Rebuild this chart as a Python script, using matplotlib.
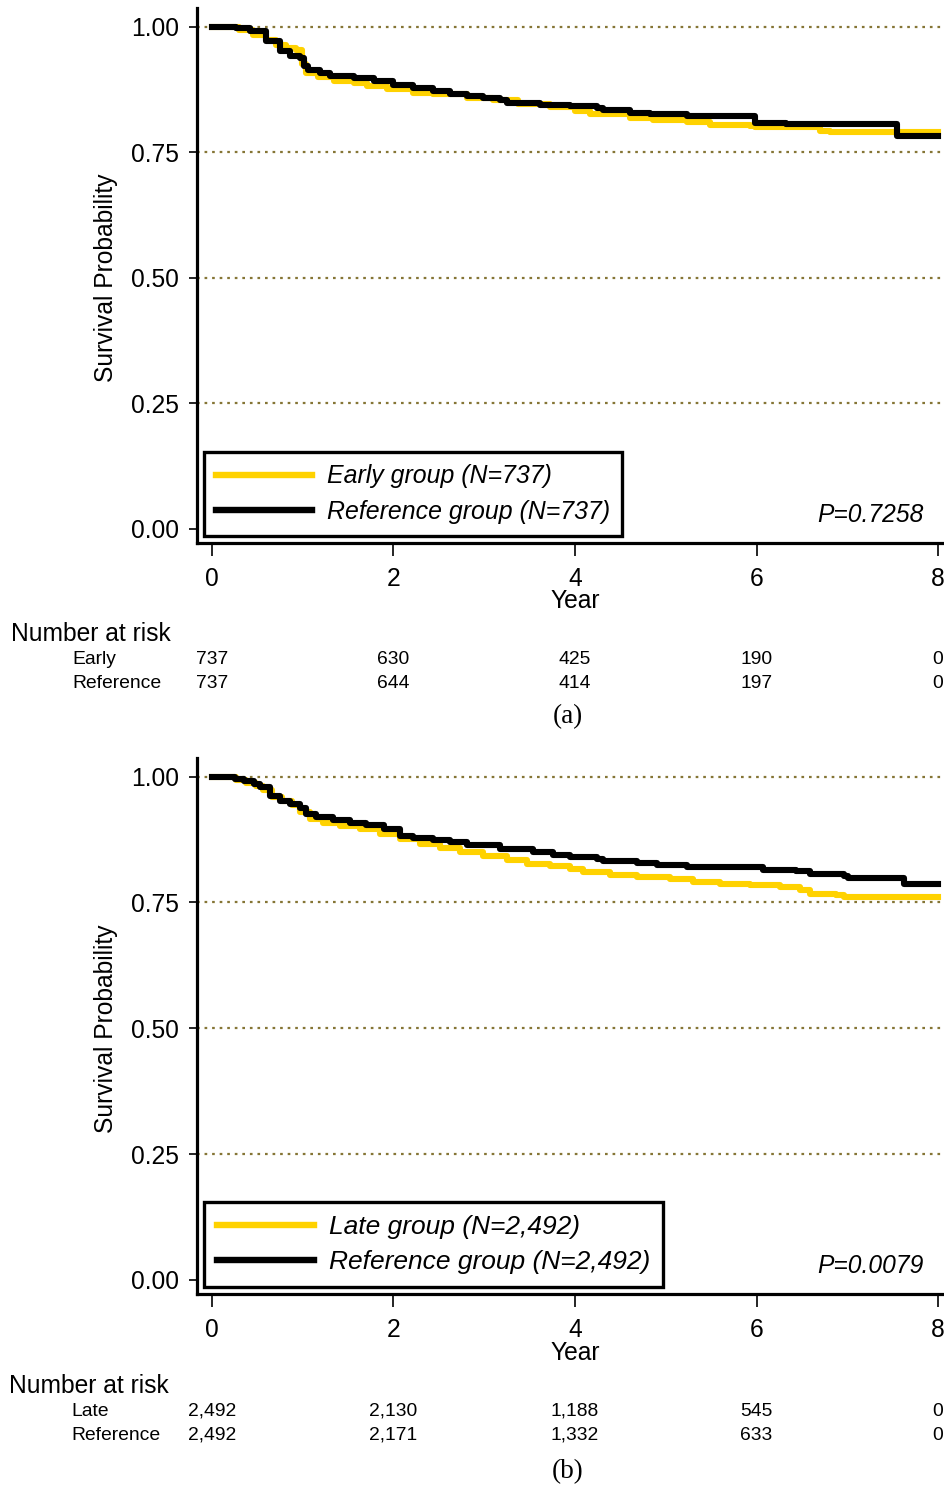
import matplotlib
matplotlib.use("Agg")
import matplotlib.pyplot as plt
import matplotlib.transforms as mtransforms

# Kaplan-Meier survival curves, two panels
plt.rcParams['font.family'] = ['Liberation Sans', 'DejaVu Sans']

# ---- panel (a) : early vs reference ----
a_early_t = [0, 0.30, 0.45, 0.60, 0.71, 0.82, 0.93, 0.99, 1.04, 1.17, 1.35, 1.56, 1.71, 1.93, 2.22, 2.44,
             2.81, 3.10, 3.37, 3.73, 4.00, 4.17, 4.61, 4.86, 5.23, 5.49, 5.93, 5.98, 6.70, 6.81, 8.0]
a_early_s = [1.0, 0.993, 0.984, 0.974, 0.964, 0.958, 0.954, 0.925, 0.908, 0.899, 0.891, 0.888, 0.881, 0.875,
             0.868, 0.865, 0.858, 0.853, 0.846, 0.839, 0.831, 0.825, 0.818, 0.815, 0.811, 0.805, 0.803,
             0.800, 0.793, 0.790, 0.790]
a_ref_t = [0, 0.27, 0.42, 0.60, 0.75, 0.86, 0.97, 1.01, 1.06, 1.19, 1.30, 1.56, 1.78, 2.00, 2.22, 2.44,
           2.62, 2.81, 2.99, 3.17, 3.25, 3.61, 3.94, 4.24, 4.31, 4.61, 4.83, 5.23, 5.98, 6.33, 7.55, 8.0]
a_ref_s = [1.0, 0.997, 0.991, 0.971, 0.951, 0.941, 0.938, 0.921, 0.914, 0.908, 0.901, 0.898, 0.891, 0.884,
           0.878, 0.871, 0.865, 0.861, 0.858, 0.853, 0.848, 0.843, 0.841, 0.838, 0.833, 0.828, 0.825,
           0.823, 0.809, 0.806, 0.783, 0.783]
a_labels = ["Early group (N=737)", "Reference group (N=737)"]
a_pval = "P=0.7258"
a_rows = ["Early", "Reference"]
a_risk_early = ["737", "630", "425", "190", "0"]
a_risk_ref = ["737", "644", "414", "197", "0"]

# ---- panel (b) : late vs reference ----
b_late_t = [0, 0.27, 0.38, 0.48, 0.56, 0.66, 0.77, 0.88, 0.97, 1.08, 1.22, 1.41, 1.63, 1.85, 2.07, 2.29,
            2.51, 2.73, 2.99, 3.25, 3.47, 3.72, 3.94, 4.09, 4.39, 4.68, 5.05, 5.30, 5.60, 5.93, 6.26,
            6.48, 6.59, 6.88, 6.96, 8.0]
b_late_s = [1.0, 0.994, 0.987, 0.981, 0.974, 0.960, 0.951, 0.944, 0.929, 0.916, 0.908, 0.901, 0.895, 0.886,
            0.876, 0.866, 0.858, 0.851, 0.843, 0.835, 0.827, 0.822, 0.816, 0.810, 0.805, 0.800, 0.797,
            0.790, 0.787, 0.784, 0.780, 0.774, 0.767, 0.765, 0.761, 0.761]
b_ref_t = [0, 0.25, 0.35, 0.46, 0.53, 0.64, 0.75, 0.86, 0.97, 1.04, 1.15, 1.33, 1.52, 1.70, 1.89, 2.07,
           2.22, 2.44, 2.62, 2.81, 3.17, 3.54, 3.76, 3.94, 4.24, 4.31, 4.68, 4.90, 5.23, 6.07, 6.44,
           6.59, 6.96, 7.01, 7.62, 8.0]
b_ref_s = [1.0, 0.996, 0.992, 0.985, 0.979, 0.962, 0.952, 0.946, 0.937, 0.926, 0.919, 0.913, 0.908, 0.903,
           0.895, 0.883, 0.878, 0.875, 0.870, 0.864, 0.857, 0.850, 0.845, 0.840, 0.837, 0.833, 0.829,
           0.825, 0.820, 0.815, 0.812, 0.807, 0.802, 0.798, 0.787, 0.787]
b_labels = ["Late group (N=2,492)", "Reference group (N=2,492)"]
b_pval = "P=0.0079"
b_rows = ["Late", "Reference"]
b_risk_late = ["2,492", "2,130", "1,188", "545", "0"]
b_risk_ref = ["2,492", "2,171", "1,332", "633", "0"]

risk_years = [0, 2, 4, 6, 8]
y_ticks = [0, 0.25, 0.5, 0.75, 1.0]
y_ticklabels = ["0.00", "0.25", "0.50", "0.75", "1.00"]

W, H = 945, 1489
yellow = '#FFD200'
grid_col = '#857535'
fs = 17.7   # main text size
fs_tab = 13.9

fig = plt.figure(figsize=(W / 100, H / 100), dpi=100)


def fx(px):
    return px / W


def fy(py):
    return 1 - py / H


def panel(top, bottom, t1, s1, t2, s2, labels, pval, rows, risk1, risk2, tag, tab_y, leg_opts):
    ax = fig.add_axes([fx(197), fy(bottom), 1 - fx(197), (bottom - top) / H])
    # gridlines (dotted, olive) behind the curves
    for g in [0.25, 0.5, 0.75, 1.0]:
        ax.axhline(g, color=grid_col, linestyle=(0, (1.2, 2.2)), linewidth=1.6, zorder=1)
    ax.plot(t1, s1, drawstyle='steps-post', color=yellow, linewidth=4.4, label=labels[0], zorder=3)
    ax.plot(t2, s2, drawstyle='steps-post', color='black', linewidth=4.4, label=labels[1], zorder=4)

    ax.set_xlim(-0.165, 8.077)
    ax.set_ylim(-0.028, 1.037)
    ax.set_xticks(risk_years)
    ax.set_yticks(y_ticks)
    ax.set_yticklabels(y_ticklabels)
    ax.tick_params(axis='both', labelsize=fs, direction='out', width=1.2)
    ax.tick_params(axis='x', length=9, pad=8)
    ax.tick_params(axis='y', length=6, pad=7)

    ax.spines['top'].set_visible(False)
    ax.spines['right'].set_visible(False)
    ax.spines['left'].set_linewidth(2.3)
    ax.spines['bottom'].set_linewidth(2.3)

    lfs, lsp, bpad, hlen = leg_opts
    leg = ax.legend(loc='lower left', bbox_to_anchor=(0.0094, 0.013), borderaxespad=0,
                    prop={'style': 'italic', 'size': lfs}, handlelength=hlen, handletextpad=0.58,
                    labelspacing=lsp, borderpad=bpad, fancybox=False, framealpha=1)
    leg.get_frame().set_edgecolor('black')
    leg.get_frame().set_linewidth(2.4)
    for ln in leg.get_lines():
        ln.set_linewidth(4.6)

    ax.text(0.972, 0.052, pval, transform=ax.transAxes, ha='right', va='center',
            style='italic', fontsize=fs)
    ax.text(-0.1217, 0.495, "Survival Probability", transform=ax.transAxes, rotation=90,
            ha='center', va='center', fontsize=fs)

    # x label and number at risk table
    tr = mtransforms.blended_transform_factory(ax.transData, fig.transFigure)
    ax.text(4, fy(tab_y[0]), "Year", transform=tr, ha='center', va='center', fontsize=fs)
    fig.text(fx(tab_y[5]), fy(tab_y[1]), "Number at risk", ha='left', va='center', fontsize=fs)
    fig.text(fx(tab_y[6]), fy(tab_y[2]), rows[0], ha='left', va='center', fontsize=fs_tab)
    fig.text(fx(tab_y[6]), fy(tab_y[3]), rows[1], ha='left', va='center', fontsize=fs_tab)
    for yr, n1, n2 in zip(risk_years, risk1, risk2):
        ax.text(yr, fy(tab_y[2]), n1, transform=tr, ha='center', va='center', fontsize=fs_tab)
        ax.text(yr, fy(tab_y[3]), n2, transform=tr, ha='center', va='center', fontsize=fs_tab)
    fig.text(fx(568), fy(tab_y[4]), tag, ha='center', va='center', fontsize=19.5,
             family=['Liberation Serif', 'DejaVu Serif'])
    return ax


panel(8, 543, a_early_t, a_early_s, a_ref_t, a_ref_s, a_labels, a_pval, a_rows,
      a_risk_early, a_risk_ref, "(a)", [601, 634, 660, 684, 717, 11, 72],
      (17.9, 0.45, 0.5, 3.85))
panel(758, 1294, b_late_t, b_late_s, b_ref_t, b_ref_s, b_labels, b_pval, b_rows,
      b_risk_late, b_risk_ref, "(b)", [1353, 1386, 1411, 1435, 1472, 9, 71],
      (19.0, 0.4, 0.5, 3.65))

fig.savefig("out.png", dpi=100)
